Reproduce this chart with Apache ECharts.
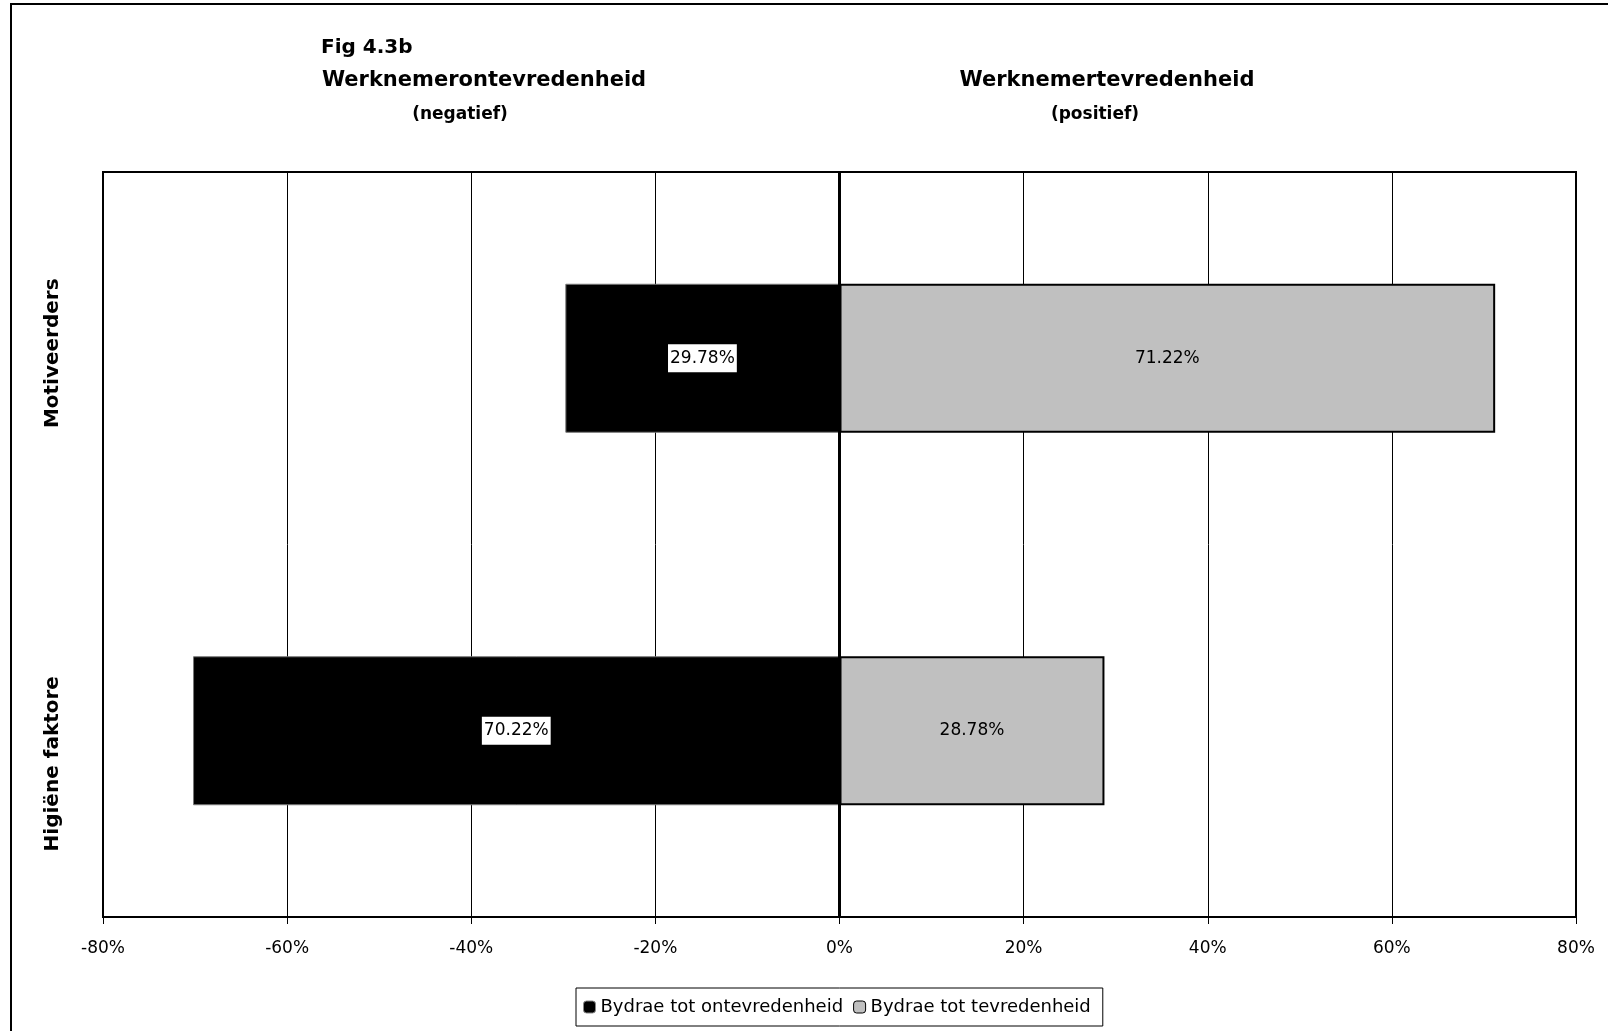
<!DOCTYPE html>
<html>
<head>
<meta charset="utf-8">
<script src="https://cdn.jsdelivr.net/npm/echarts@6/dist/echarts.min.js"></script>
<style>
  html, body { margin: 0; padding: 0; background: #fff; }
  #chartDom { width: 1608px; height: 1031px; }
</style>
</head>
<body>
<div id="chartDom"></div>
<script>
const categories = ['Higiëne faktore', 'Motiveerders'];
const ontevredenheid = [-70.22, -29.78];
const tevredenheid = [28.78, 71.22];
const xTicks = { min: -80, max: 80, interval: 20 };

const font = "'DejaVu Sans', 'Liberation Sans', Arial, sans-serif";
const chart = echarts.init(document.getElementById('chartDom'));

const boldText = (size) => ({ fontSize: size, fontWeight: 'bold', color: '#000', fontFamily: font });

const option = {
  backgroundColor: '#fff',
  animation: false,
  textStyle: { fontFamily: font },
  title: [
    { text: 'Fig 4.3b', left: 316, top: 33, textStyle: boldText(20) },
    { text: 'Werknemerontevredenheid', left: 479, top: 65, textAlign: 'center', textStyle: boldText(21) },
    { text: '(negatief)', left: 455, top: 101, textAlign: 'center', textStyle: boldText(17) },
    { text: 'Werknemertevredenheid', left: 1102, top: 65, textAlign: 'center', textStyle: boldText(21) },
    { text: '(positief)', left: 1090, top: 101, textAlign: 'center', textStyle: boldText(17) }
  ],
  graphic: [
    // outer frame runs off the right/bottom edge in the source
    { type: 'rect', shape: { x: 11, y: 4, width: 1620, height: 1050 }, style: { fill: 'none', stroke: '#000', lineWidth: 2 }, z: -1 }
  ],
  legend: {
    left: 576,
    top: 988,
    itemWidth: 12,
    itemHeight: 12,
    itemGap: 10,
    padding: [10, 12, 10, 7],
    borderColor: '#000',
    borderWidth: 1,
    textStyle: { fontSize: 18, color: '#000', fontFamily: font },
    data: [
      { name: 'Bydrae tot ontevredenheid', itemStyle: { color: '#000', borderColor: '#888', borderWidth: 1 } },
      { name: 'Bydrae tot tevredenheid', itemStyle: { color: '#c0c0c0', borderColor: '#000', borderWidth: 1 } }
    ]
  },
  grid: {
    left: 103,
    right: 32,
    top: 172,
    bottom: 114,
    show: true,
    borderColor: '#000',
    borderWidth: 2
  },
  xAxis: {
    type: 'value',
    min: xTicks.min,
    max: xTicks.max,
    interval: xTicks.interval,
    axisLine: { show: true, lineStyle: { color: '#000', width: 2 } },
    axisTick: { show: true, length: 7, lineStyle: { color: '#000' } },
    axisLabel: { formatter: '{value}%', fontSize: 17, color: '#000', margin: 23, fontFamily: font },
    splitLine: { show: true, lineStyle: { color: '#000', width: 1 } }
  },
  yAxis: {
    type: 'category',
    data: [
      { value: categories[0], textStyle: { padding: [0, 66, 0, 0] } },
      { value: categories[1], textStyle: { padding: [0, 0, 0, 10] } }
    ],
    axisLine: { show: true, lineStyle: { color: '#000', width: 2 } },
    axisTick: { show: false },
    axisLabel: { rotate: 90, fontSize: 20, fontWeight: 'bold', color: '#000', margin: 40, fontFamily: font }
  },
  series: [
    {
      name: 'Bydrae tot ontevredenheid',
      type: 'bar',
      data: ontevredenheid,
      barWidth: '40%',
      barGap: '-100%',
      itemStyle: { color: '#000', borderColor: '#777', borderWidth: 1 },
      label: {
        show: true,
        position: 'inside',
        formatter: p => Math.abs(p.value).toFixed(2) + '%',
        color: '#000',
        fontSize: 17,
        fontFamily: font,
        backgroundColor: '#fff',
        padding: [6, 2, 5, 2]
      },
      markLine: {
        silent: true,
        symbol: 'none',
        label: { show: false },
        lineStyle: { color: '#000', width: 3, type: 'solid' },
        data: [{ xAxis: 0 }]
      }
    },
    {
      name: 'Bydrae tot tevredenheid',
      type: 'bar',
      data: tevredenheid,
      barWidth: '40%',
      itemStyle: { color: '#c0c0c0', borderColor: '#000', borderWidth: 2 },
      label: {
        show: true,
        position: 'inside',
        formatter: p => p.value.toFixed(2) + '%',
        color: '#000',
        fontSize: 17,
        fontFamily: font
      }
    }
  ]
};

chart.setOption(option);
</script>
</body>
</html>
